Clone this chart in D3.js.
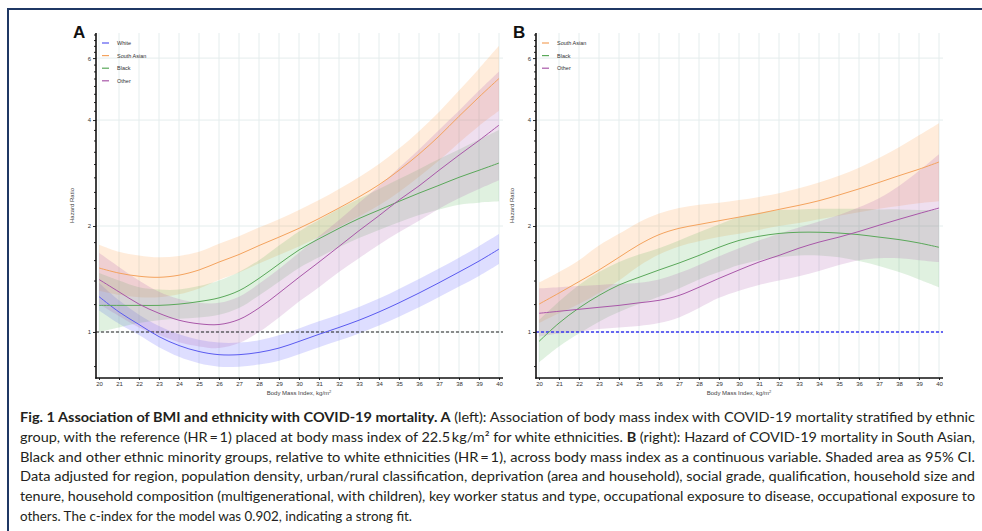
<!DOCTYPE html>
<html><head><meta charset="utf-8">
<script src="https://cdn.jsdelivr.net/npm/d3@7"></script>
<style>
html,body{margin:0;padding:0;background:#fff;}
svg{display:block;}
</style></head>
<body>
<svg id="chart" width="982" height="531"></svg>
<script>
// ---------- DATA ----------
const bmi = [20,21,22,23,24,25,26,27,28,29,30,31,32,33,34,35,36,37,38,39,40];
const xTicks = [20,21,22,23,24,25,26,27,28,29,30,31,32,33,34,35,36,37,38,39,40];
const yTickLabels = [1,2,4,6];
const yMinorTicks = [0.8,1.2,1.4,1.6,1.8,2.25,2.5,2.75,3,3.25,3.5,3.75,4.25,4.5,4.75,5,5.25,5.5,5.75,6.25,6.5,6.75,7];

// Panel A (ethnicity-stratified, reference = White at BMI 22.5)
const aWhite   = [1.26,1.14,1.05,0.97,0.915,0.88,0.862,0.862,0.875,0.9,0.94,0.985,1.03,1.08,1.14,1.21,1.29,1.38,1.48,1.59,1.72];
const aWhiteLo = [1.15,1.055,0.98,0.905,0.85,0.815,0.797,0.797,0.808,0.828,0.864,0.905,0.945,0.99,1.043,1.105,1.176,1.257,1.346,1.443,1.56];
const aWhiteHi = [1.38,1.23,1.12,1.04,0.985,0.95,0.933,0.933,0.948,0.978,1.023,1.072,1.122,1.178,1.244,1.325,1.415,1.515,1.626,1.752,1.897];

const aSA   = [1.52,1.47,1.44,1.43,1.45,1.5,1.58,1.66,1.76,1.86,1.97,2.1,2.25,2.42,2.62,2.88,3.2,3.6,4.1,4.65,5.25];
const aSALo = [1.31,1.275,1.255,1.255,1.28,1.33,1.405,1.475,1.565,1.655,1.75,1.86,1.99,2.13,2.29,2.5,2.76,3.07,3.45,3.85,4.25];
const aSAHi = [1.77,1.69,1.65,1.63,1.645,1.69,1.78,1.87,1.98,2.09,2.22,2.37,2.55,2.75,3.0,3.32,3.72,4.22,4.85,5.6,6.5];

const aBlack   = [1.19,1.19,1.19,1.19,1.2,1.22,1.25,1.31,1.42,1.56,1.71,1.84,1.97,2.1,2.22,2.35,2.48,2.61,2.75,2.88,3.02];
const aBlackLo = [1.0,1.03,1.06,1.08,1.09,1.1,1.12,1.17,1.27,1.39,1.52,1.63,1.74,1.85,1.95,2.05,2.15,2.23,2.3,2.33,2.35];
const aBlackHi = [1.47,1.4,1.34,1.32,1.32,1.35,1.4,1.48,1.6,1.76,1.93,2.08,2.24,2.39,2.55,2.72,2.9,3.1,3.3,3.52,3.75];

const aOther   = [1.41,1.3,1.2,1.13,1.08,1.055,1.05,1.085,1.17,1.29,1.43,1.58,1.75,1.94,2.14,2.37,2.6,2.88,3.18,3.5,3.87];
const aOtherLo = [1.2,1.11,1.03,0.98,0.935,0.91,0.9,0.93,1.0,1.1,1.22,1.34,1.48,1.62,1.77,1.92,2.07,2.24,2.4,2.55,2.7];
const aOtherHi = [1.68,1.53,1.4,1.3,1.24,1.21,1.21,1.26,1.37,1.51,1.68,1.87,2.08,2.33,2.6,2.93,3.3,3.75,4.25,4.85,5.5];

// Panel B (relative to White, HR = 1)
const bSA   = [1.2,1.29,1.39,1.5,1.63,1.77,1.89,1.97,2.02,2.07,2.12,2.17,2.23,2.29,2.36,2.45,2.55,2.66,2.78,2.9,3.04];
const bSALo = [1.06,1.13,1.2,1.29,1.4,1.54,1.66,1.75,1.81,1.86,1.9,1.95,2.0,2.04,2.09,2.14,2.19,2.24,2.28,2.32,2.35];
const bSAHi = [1.38,1.48,1.6,1.76,1.9,2.05,2.17,2.25,2.3,2.33,2.37,2.42,2.48,2.56,2.66,2.78,2.93,3.12,3.35,3.62,3.92];

const bBlack   = [0.94,1.06,1.17,1.27,1.36,1.43,1.5,1.57,1.65,1.74,1.82,1.87,1.905,1.92,1.92,1.91,1.89,1.86,1.83,1.79,1.74];
const bBlackLo = [0.82,0.91,0.99,1.07,1.14,1.2,1.26,1.33,1.41,1.48,1.55,1.6,1.63,1.65,1.65,1.63,1.59,1.54,1.48,1.41,1.34];
const bBlackHi = [1.08,1.22,1.36,1.48,1.58,1.66,1.73,1.82,1.92,2.02,2.12,2.18,2.22,2.23,2.24,2.24,2.24,2.23,2.23,2.22,2.22];

const bOther   = [1.13,1.145,1.16,1.175,1.19,1.21,1.23,1.27,1.34,1.42,1.5,1.58,1.65,1.73,1.8,1.86,1.93,2.01,2.09,2.17,2.25];
const bOtherLo = [0.97,0.99,1.0,1.02,1.03,1.04,1.06,1.1,1.17,1.25,1.31,1.36,1.4,1.44,1.49,1.55,1.6,1.62,1.62,1.6,1.58];
const bOtherHi = [1.33,1.34,1.35,1.36,1.37,1.38,1.41,1.47,1.55,1.64,1.73,1.82,1.9,1.98,2.06,2.15,2.26,2.4,2.6,2.87,3.2];

const legendA = ["White","South Asian","Black","Other"];
const legendB = ["South Asian","Black","Other"];

const captionLines = [
  [["Fig. 1 Association of BMI and ethnicity with COVID-19 mortality. A",true],[" (left): Association of body mass index with COVID-19 mortality stratified by ethnic",false]],
  [["group, with the reference (HR\u2009=\u20091) placed at body mass index of 22.5\u2009kg/m\u00B2 for white ethnicities. ",false],["B",true],[" (right): Hazard of COVID-19 mortality in South Asian,",false]],
  [["Black and other ethnic minority groups, relative to white ethnicities (HR\u2009=\u20091), across body mass index as a continuous variable. Shaded area as 95% CI.",false]],
  [["Data adjusted for region, population density, urban/rural classification, deprivation (area and household), social grade, qualification, household size and",false]],
  [["tenure, household composition (multigenerational, with children), key worker status and type, occupational exposure to disease, occupational exposure to",false]],
  [["others. The c-index for the model was 0.902, indicating a strong fit.",false]]
];

// ---------- STYLE ----------
const colors = {
  "White":       {line:"#5a5af0", fill:"#6a6aff", op:0.22},
  "South Asian": {line:"#f4a35e", fill:"#ffa04a", op:0.2},
  "Black":       {line:"#5aa85a", fill:"#52b152", op:0.18},
  "Other":       {line:"#a957a9", fill:"#b060b0", op:0.2}
};
const FONT = "Liberation Sans, Arial, sans-serif";

const svg = d3.select("#chart");

// frame
svg.append("rect").attr("x",8).attr("y",9).attr("width",1100).attr("height",700)
  .attr("fill","none").attr("stroke","#1f3864").attr("stroke-width",2);

function panel(opts){
  const x = d3.scaleLinear().domain([20,40]).range([opts.x0, opts.x0+400]);
  const y = d3.scaleLog().domain([0.74,7.07]).range([378,33]);
  const g = svg.append("g");
  const left = opts.x0-3, right = opts.x0+404, top = 33, bottom = 378;

  const clipId = "clip"+opts.id;
  svg.append("clipPath").attr("id",clipId).append("rect")
    .attr("x",left).attr("y",top).attr("width",right-left).attr("height",bottom-top);

  // grid
  g.append("g").selectAll("line").data(xTicks).join("line")
    .attr("x1",d=>x(d)).attr("x2",d=>x(d)).attr("y1",top).attr("y2",bottom)
    .attr("stroke","#e4eded").attr("stroke-width",1);
  g.append("g").selectAll("line").data(yTickLabels).join("line")
    .attr("x1",left).attr("x2",right).attr("y1",d=>y(d)).attr("y2",d=>y(d))
    .attr("stroke","#e4eded").attr("stroke-width",1);

  const plot = g.append("g").attr("clip-path",`url(#${clipId})`);
  const curve = d3.curveCatmullRom.alpha(0.5);
  const area = d3.area().x((d,i)=>x(bmi[i])).y0(d=>y(d[0])).y1(d=>y(d[1])).curve(curve);
  const line = d3.line().x((d,i)=>x(bmi[i])).y(d=>y(d)).curve(curve);

  opts.series.forEach(s=>{
    const c = colors[s.name];
    plot.append("path").datum(s.lo.map((v,i)=>[v,s.hi[i]]))
      .attr("d",area).attr("fill",c.fill).attr("fill-opacity",c.op).attr("stroke","none");
  });
  // reference line
  plot.append("line").attr("x1",left).attr("x2",right).attr("y1",y(1)).attr("y2",y(1))
    .attr("stroke",opts.refColor).attr("stroke-width",opts.refWidth).attr("stroke-dasharray",opts.refDash);
  opts.series.forEach(s=>{
    const c = colors[s.name];
    plot.append("path").datum(s.v).attr("d",line)
      .attr("fill","none").attr("stroke",c.line).attr("stroke-width",1);
  });

  // axes
  const yAxis = d3.axisLeft(y).tickValues(yTickLabels).tickFormat(d3.format("d")).tickSize(3).tickPadding(2);
  const ya = g.append("g").attr("transform",`translate(${left},0)`).call(yAxis);
  ya.select(".domain").remove();
  ya.selectAll("text").attr("font-size",6).attr("fill","#333").attr("font-family",FONT);
  ya.selectAll(".tick line").attr("stroke","#222");
  const yMinor = d3.axisLeft(y).tickValues(yMinorTicks).tickFormat("").tickSize(2);
  const ym = g.append("g").attr("transform",`translate(${left},0)`).call(yMinor);
  ym.select(".domain").remove();
  ym.selectAll(".tick line").attr("stroke","#222");

  const xAxis = d3.axisBottom(x).tickValues(xTicks).tickFormat(d3.format("d")).tickSize(2).tickPadding(2);
  const xa = g.append("g").attr("transform",`translate(0,${bottom})`).call(xAxis);
  xa.select(".domain").remove();
  xa.selectAll("text").attr("font-size",6).attr("fill","#333").attr("font-family",FONT);
  xa.selectAll(".tick line").attr("stroke","#222");

  g.append("line").attr("x1",left).attr("x2",left).attr("y1",top).attr("y2",bottom+0.75).attr("stroke","#111").attr("stroke-width",1.6);
  g.append("line").attr("x1",left-0.75).attr("x2",right).attr("y1",bottom).attr("y2",bottom).attr("stroke","#111").attr("stroke-width",1.6);

  // axis titles
  const xt = g.append("text").attr("x",(x(20)+x(40))/2).attr("y",395).attr("text-anchor","middle")
    .attr("font-size",6).attr("fill","#444").attr("font-family",FONT);
  xt.append("tspan").text("Body Mass Index, kg/m");
  xt.append("tspan").attr("font-size",4).attr("dy",-2.5).text("2");
  g.append("text").attr("transform",`translate(${left-22},${(top+bottom)/2}) rotate(-90)`)
    .attr("text-anchor","middle").attr("font-size",6).attr("fill","#444")
    .attr("font-family",FONT).text("Hazard Ratio");

  // panel letter
  g.append("text").attr("x",opts.x0-26).attr("y",38).attr("font-size",17).attr("font-weight","bold")
    .attr("font-family",FONT).attr("fill","#111").text(opts.id);

  // legend
  const lg = g.append("g");
  opts.legend.forEach((name,i)=>{
    const yy = 43 + i*12.6;
    lg.append("line").attr("x1",opts.x0+3).attr("x2",opts.x0+10).attr("y1",yy).attr("y2",yy)
      .attr("stroke",colors[name].line).attr("stroke-width",1.2);
    lg.append("text").attr("x",opts.x0+18).attr("y",yy+2).attr("font-size",5.5).attr("fill","#333")
      .attr("font-family",FONT).text(name);
  });
}

panel({id:"A", x0:99, refColor:"#222", refWidth:1.1, refDash:"3,2", legend:legendA,
  series:[
    {name:"White", v:aWhite, lo:aWhiteLo, hi:aWhiteHi},
    {name:"South Asian", v:aSA, lo:aSALo, hi:aSAHi},
    {name:"Black", v:aBlack, lo:aBlackLo, hi:aBlackHi},
    {name:"Other", v:aOther, lo:aOtherLo, hi:aOtherHi}
  ]});
panel({id:"B", x0:539, refColor:"#3a3af0", refWidth:1.4, refDash:"3,2", legend:legendB,
  series:[
    {name:"South Asian", v:bSA, lo:bSALo, hi:bSAHi},
    {name:"Black", v:bBlack, lo:bBlackLo, hi:bBlackHi},
    {name:"Other", v:bOther, lo:bOtherLo, hi:bOtherHi}
  ]});

// caption: justified lines; last line kept at its own width
const capX = 20, capRight = 975, capTop = 422, capLH = 19.8, lastW = 392;
const texts = captionLines.map((parts,i)=>{
  const t = svg.append("text").attr("x",capX).attr("y",capTop+i*capLH)
    .attr("font-size",13.5).attr("fill","#231f20")
    .attr("font-family","Lato, 'Open Sans', sans-serif");
  parts.forEach(p=>{
    t.append("tspan").attr("font-weight",p[1]?"bold":"normal").text(p[0]);
  });
  return t;
});
texts.forEach((t,i)=>{
  if(i < texts.length-1){
    t.attr("textLength",capRight-capX).attr("lengthAdjust","spacingAndGlyphs");
  } else {
    t.attr("textLength",lastW).attr("lengthAdjust","spacingAndGlyphs");
  }
});
</script>
</body></html>
